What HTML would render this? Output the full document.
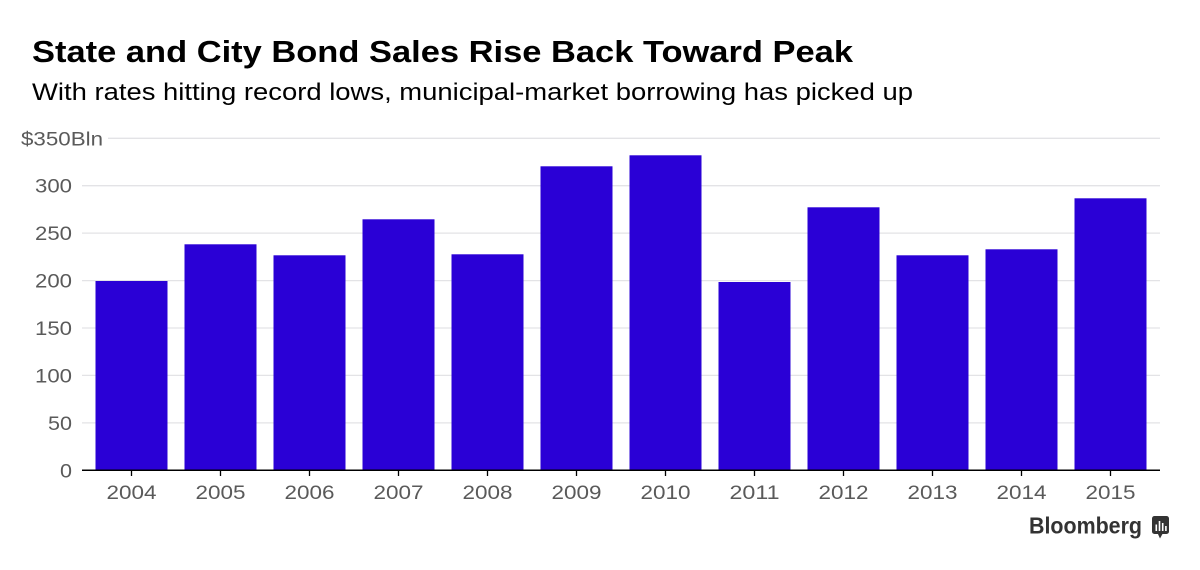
<!DOCTYPE html>
<html>
<head>
<meta charset="utf-8">
<style>
  html, body { margin: 0; padding: 0; background: #ffffff; }
  svg { display: block; }
  text { font-family: "Liberation Sans", Arial, sans-serif; }
</style>
</head>
<body>
<svg width="1200" height="570" viewBox="0 0 1200 570" xmlns="http://www.w3.org/2000/svg">
  <rect x="0" y="0" width="1200" height="570" fill="#ffffff"/>

  <!-- Title and subtitle -->
  <text x="32" y="62" font-size="31" font-weight="bold" fill="#000" textLength="821" lengthAdjust="spacingAndGlyphs">State and City Bond Sales Rise Back Toward Peak</text>
  <text x="32" y="100" font-size="24" fill="#000" textLength="881" lengthAdjust="spacingAndGlyphs">With rates hitting record lows, municipal-market borrowing has picked up</text>

  <!-- Gridlines -->
  <g stroke="#e3e3e6" stroke-width="1.3">
    <line x1="108" y1="138.3" x2="1160" y2="138.3"/>
    <line x1="82" y1="185.7" x2="1160" y2="185.7"/>
    <line x1="82" y1="233.1" x2="1160" y2="233.1"/>
    <line x1="82" y1="280.6" x2="1160" y2="280.6"/>
    <line x1="82" y1="328" x2="1160" y2="328"/>
    <line x1="82" y1="375.4" x2="1160" y2="375.4"/>
    <line x1="82" y1="422.9" x2="1160" y2="422.9"/>
  </g>

  <!-- Y labels -->
  <g font-size="19" fill="#5a5a5a">
    <text x="21" y="145.3" textLength="82" lengthAdjust="spacingAndGlyphs">$350Bln</text>
    <text x="35" y="192.7" textLength="37" lengthAdjust="spacingAndGlyphs">300</text>
    <text x="35" y="240.1" textLength="37" lengthAdjust="spacingAndGlyphs">250</text>
    <text x="35" y="287.6" textLength="37" lengthAdjust="spacingAndGlyphs">200</text>
    <text x="35" y="335" textLength="37" lengthAdjust="spacingAndGlyphs">150</text>
    <text x="35" y="382.4" textLength="37" lengthAdjust="spacingAndGlyphs">100</text>
    <text x="48" y="429.9" textLength="24" lengthAdjust="spacingAndGlyphs">50</text>
    <text x="60" y="477.3" textLength="12" lengthAdjust="spacingAndGlyphs">0</text>
  </g>

  <!-- Bars -->
  <g fill="#2a00d6">
    <rect x="95.5"  y="281"   width="72" height="189.3"/>
    <rect x="184.5" y="244.3" width="72" height="226"/>
    <rect x="273.5" y="255.3" width="72" height="215"/>
    <rect x="362.5" y="219.3" width="72" height="251"/>
    <rect x="451.5" y="254.3" width="72" height="216"/>
    <rect x="540.5" y="166.3" width="72" height="304"/>
    <rect x="629.5" y="155.3" width="72" height="315"/>
    <rect x="718.5" y="282"   width="72" height="188.3"/>
    <rect x="807.5" y="207.3" width="72" height="263"/>
    <rect x="896.5" y="255.3" width="72" height="215"/>
    <rect x="985.5" y="249.3" width="72" height="221"/>
    <rect x="1074.5" y="198.3" width="72" height="272"/>
  </g>

  <!-- X axis -->
  <line x1="82" y1="470.3" x2="1160" y2="470.3" stroke="#000" stroke-width="1.5"/>
  <g stroke="#000" stroke-width="1.3">
    <line x1="131.5" y1="470" x2="131.5" y2="476"/>
    <line x1="220.5" y1="470" x2="220.5" y2="476"/>
    <line x1="309.5" y1="470" x2="309.5" y2="476"/>
    <line x1="398.5" y1="470" x2="398.5" y2="476"/>
    <line x1="487.5" y1="470" x2="487.5" y2="476"/>
    <line x1="576.5" y1="470" x2="576.5" y2="476"/>
    <line x1="665.5" y1="470" x2="665.5" y2="476"/>
    <line x1="754.5" y1="470" x2="754.5" y2="476"/>
    <line x1="843.5" y1="470" x2="843.5" y2="476"/>
    <line x1="932.5" y1="470" x2="932.5" y2="476"/>
    <line x1="1021.5" y1="470" x2="1021.5" y2="476"/>
    <line x1="1110.5" y1="470" x2="1110.5" y2="476"/>
  </g>

  <!-- X labels -->
  <g font-size="19" fill="#5a5a5a">
    <text x="106.5" y="499" textLength="50" lengthAdjust="spacingAndGlyphs">2004</text>
    <text x="195.5" y="499" textLength="50" lengthAdjust="spacingAndGlyphs">2005</text>
    <text x="284.5" y="499" textLength="50" lengthAdjust="spacingAndGlyphs">2006</text>
    <text x="373.5" y="499" textLength="50" lengthAdjust="spacingAndGlyphs">2007</text>
    <text x="462.5" y="499" textLength="50" lengthAdjust="spacingAndGlyphs">2008</text>
    <text x="551.5" y="499" textLength="50" lengthAdjust="spacingAndGlyphs">2009</text>
    <text x="640.5" y="499" textLength="50" lengthAdjust="spacingAndGlyphs">2010</text>
    <text x="729.5" y="499" textLength="50" lengthAdjust="spacingAndGlyphs">2011</text>
    <text x="818.5" y="499" textLength="50" lengthAdjust="spacingAndGlyphs">2012</text>
    <text x="907.5" y="499" textLength="50" lengthAdjust="spacingAndGlyphs">2013</text>
    <text x="996.5" y="499" textLength="50" lengthAdjust="spacingAndGlyphs">2014</text>
    <text x="1085.5" y="499" textLength="50" lengthAdjust="spacingAndGlyphs">2015</text>
  </g>

  <!-- Bloomberg logo -->
  <text x="1029" y="533.3" font-size="23" font-weight="bold" fill="#333" textLength="113" lengthAdjust="spacingAndGlyphs">Bloomberg</text>
  <rect x="1152" y="516" width="17" height="18" rx="2.5" fill="#333"/>
  <polygon points="1157.5,533 1163,533 1160,538.5" fill="#333"/>
  <g fill="#fff">
    <rect x="1155.5" y="524.5" width="1.6" height="6.5"/>
    <rect x="1158.7" y="521" width="1.6" height="10"/>
    <rect x="1161.9" y="523" width="1.6" height="8"/>
    <rect x="1165.1" y="526" width="1.6" height="5"/>
  </g>
</svg>
</body>
</html>
